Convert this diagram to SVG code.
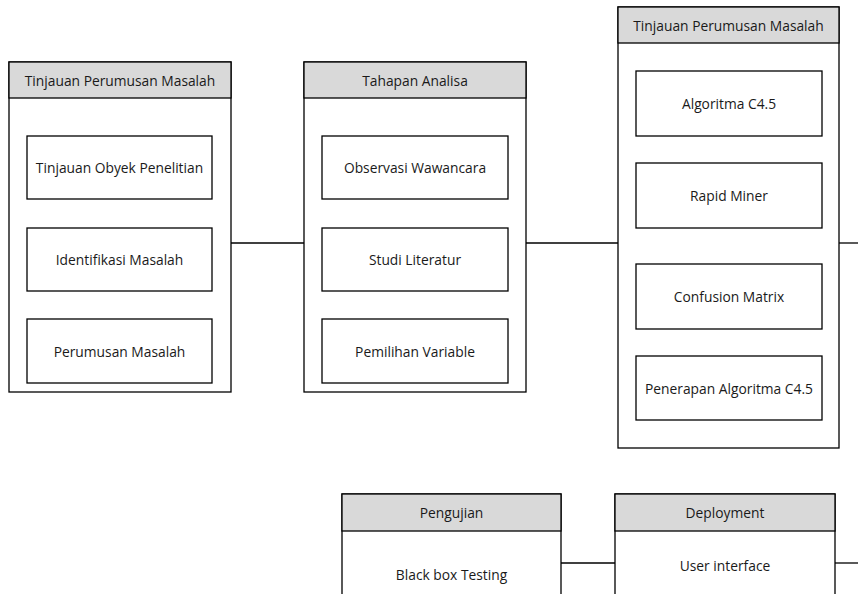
<svg xmlns="http://www.w3.org/2000/svg" width="858" height="594" viewBox="0 0 858 594">
<style>
.outer{fill:#fff;stroke:#000;stroke-width:1.3}
.head{fill:#d9d9d9;stroke:#000;stroke-width:1.3}
.inner{fill:#fff;stroke:#000;stroke-width:1.3}
.t{font-family:"Open Sans","Liberation Sans",sans-serif;font-size:13.8px;fill:#1a1a1a;text-anchor:middle;dominant-baseline:central}
.c{stroke:#000;stroke-width:1.3;fill:none}
</style>
<rect width="858" height="594" fill="#fff"/>
<g id="connectors">
<line class="c" x1="231" y1="243" x2="304" y2="243"/>
<line class="c" x1="526" y1="243" x2="618" y2="243"/>
<line class="c" x1="839" y1="243" x2="858" y2="243"/>
<line class="c" x1="561" y1="563" x2="615" y2="563"/>
<line class="c" x1="835" y1="563" x2="858" y2="563"/>
</g>
<g id="box1">
<rect class="outer" x="9" y="62" width="222" height="330"/>
<rect class="head" x="9" y="62" width="222" height="36"/>
<text class="t" x="120" y="80">Tinjauan Perumusan Masalah</text>
<g id="b1n1"><rect class="inner" x="27" y="136" width="185" height="63"/><text class="t" x="119.5" y="167.5">Tinjauan Obyek Penelitian</text></g>
<g id="b1n2"><rect class="inner" x="27" y="228" width="185" height="63"/><text class="t" x="119.5" y="259.5">Identifikasi Masalah</text></g>
<g id="b1n3"><rect class="inner" x="27" y="319" width="185" height="64"/><text class="t" x="119.5" y="351">Perumusan Masalah</text></g>
</g>
<g id="box2">
<rect class="outer" x="304" y="62" width="222" height="330"/>
<rect class="head" x="304" y="62" width="222" height="36"/>
<text class="t" x="415" y="80">Tahapan Analisa</text>
<g id="b2n1"><rect class="inner" x="322" y="136" width="186" height="63"/><text class="t" x="415" y="167.5">Observasi Wawancara</text></g>
<g id="b2n2"><rect class="inner" x="322" y="228" width="186" height="63"/><text class="t" x="415" y="259.5">Studi Literatur</text></g>
<g id="b2n3"><rect class="inner" x="322" y="319" width="186" height="64"/><text class="t" x="415" y="351">Pemilihan Variable</text></g>
</g>
<g id="box3">
<rect class="outer" x="618" y="7" width="221" height="441"/>
<rect class="head" x="618" y="7" width="221" height="36"/>
<text class="t" x="728.5" y="25">Tinjauan Perumusan Masalah</text>
<g id="b3n1"><rect class="inner" x="636" y="71" width="186" height="65"/><text class="t" x="729" y="103.5">Algoritma C4.5</text></g>
<g id="b3n2"><rect class="inner" x="636" y="163" width="186" height="65"/><text class="t" x="729" y="195.5">Rapid Miner</text></g>
<g id="b3n3"><rect class="inner" x="636" y="264" width="186" height="65"/><text class="t" x="729" y="296.5">Confusion Matrix</text></g>
<g id="b3n4"><rect class="inner" x="636" y="356" width="186" height="64"/><text class="t" x="729" y="388">Penerapan Algoritma C4.5</text></g>
</g>
<g id="pengujian">
<rect class="outer" x="342" y="494" width="219" height="110"/>
<rect class="head" x="342" y="494" width="219" height="37"/>
<text class="t" x="451.5" y="512.5">Pengujian</text>
<text class="t" x="451.5" y="574">Black box Testing</text>
</g>
<g id="deployment">
<rect class="outer" x="615" y="494" width="220" height="110"/>
<rect class="head" x="615" y="494" width="220" height="37"/>
<text class="t" x="725" y="512.5">Deployment</text>
<text class="t" x="725" y="565">User interface</text>
</g>
</svg>
